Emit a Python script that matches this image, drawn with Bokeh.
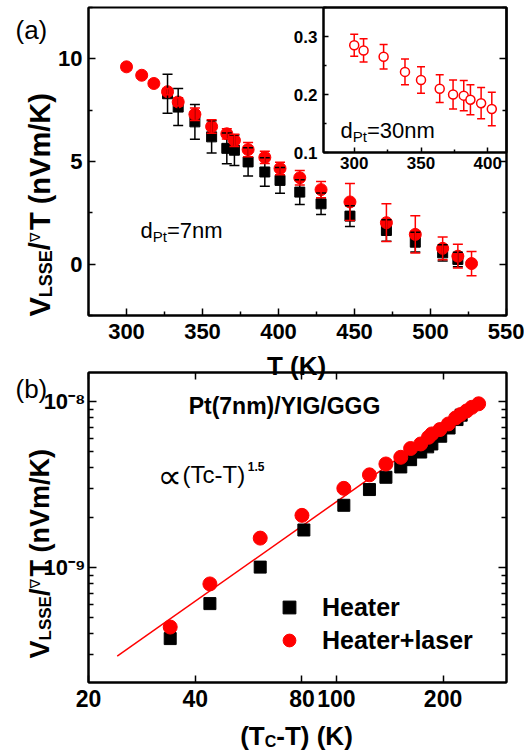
import math
from bokeh.plotting import figure
from bokeh.models import (ColumnDataSource, Whisker, TeeHead, Label, LinearAxis, LogAxis,
                          FixedTicker, NumeralTickFormatter, CustomJSTickFormatter,
                          Legend, LegendItem, GridBox)
from bokeh.embed import file_html
from bokeh.resources import INLINE

# ---------------- data: panel (a), d_Pt = 7 nm ----------------
heater_T = [327, 334, 345, 356, 366, 371, 380, 391, 401, 414, 428, 447, 471, 490, 508, 518]
heater_V = [8.30, 7.65, 6.93, 6.20, 5.64, 5.55, 4.98, 4.49, 4.08, 3.51, 2.94, 2.34, 1.64, 1.07, 0.55, 0.23]
heater_err = [0.95, 0.90, 0.85, 0.78, 0.75, 0.74, 0.69, 0.69, 0.63, 0.60, 0.52, 0.50, 0.52, 0.48, 0.40, 0.35]
laser_T = [300, 310, 318, 327, 334, 345, 356, 366, 371, 380, 391, 401, 414, 428, 447, 471, 490, 508, 518, 527]
laser_V = [9.61, 9.20, 8.80, 8.40, 7.90, 7.30, 6.70, 6.35, 6.03, 5.58, 5.20, 4.66, 4.21, 3.63, 3.03,
           2.02, 1.45, 0.77, 0.39, 0.03]
laser_err = [0.15, 0.15, 0.15, 0.15, 0.20, 0.30, 0.33, 0.25, 0.30, 0.35, 0.30, 0.30, 0.35, 0.40, 0.90,
             0.92, 0.91, 0.55, 0.58, 0.59]
# inset, d_Pt = 30 nm
inset_T = [300, 307, 322, 338, 350, 364, 374, 382, 387, 395, 403]
inset_V = [0.285, 0.276, 0.265, 0.239, 0.225, 0.210, 0.200, 0.198, 0.191, 0.185, 0.175]
inset_err = [0.019, 0.020, 0.021, 0.022, 0.023, 0.024, 0.025, 0.026, 0.026, 0.027, 0.029]

# ---------------- data: panel (b) ----------------
b_heater_dT = [34, 44, 61, 81, 105, 124, 138, 152, 162, 173, 181, 186, 197, 208, 219, 225]
b_heater_S = [3.75e-10, 6.09e-10, 1.01e-9, 1.69e-9, 2.38e-9, 2.96e-9, 3.51e-9, 4.05e-9, 4.48e-9,
              4.98e-9, 5.35e-9, 5.57e-9, 6.20e-9, 6.95e-9, 7.81e-9, 8.30e-9]
b_laser_dT = [34, 44, 61, 80, 105, 124, 138, 152, 162, 173, 182, 186, 196, 207, 217, 224, 233, 241, 252]
b_laser_S = [4.4e-10, 8.0e-10, 1.51e-9, 2.07e-9, 3.01e-9, 3.63e-9, 4.22e-9, 4.63e-9, 5.23e-9, 5.57e-9,
             6.11e-9, 6.40e-9, 6.80e-9, 7.35e-9, 7.99e-9, 8.37e-9, 8.80e-9, 9.25e-9, 9.72e-9]
fit_dT = [24.1, 255]
fit_S = [2.94e-10, 1.02e-8]

# tick positions
a_xticks = [300, 350, 400, 450, 500, 550]
a_xminor = [275, 325, 375, 425, 475, 525]
a_yticks = [0, 5, 10]
a_yminor = [-2.5, 2.5, 7.5, 12.5]
in_xticks = [300, 350, 400]
in_xminor = [325, 375]
in_yticks = [0.1, 0.2, 0.3]
in_yminor = [0.15, 0.25, 0.35]
b_xticks = [20, 40, 80, 100, 200]
b_yticks = [1e-9, 1e-8]
b_yminor = [k * d for d in (1e-10, 1e-9, 1e-8) for k in range(2, 10)]

RED = "#ff0000"
FONT = "Liberation Sans"
W, H = 524, 754

# Arial / Liberation Sans advance widths (em)
AR = {' ': .278, '(': .333, ')': .333, '-': .333, '.': .278, '/': .278, '=': .584, '+': .584,
      'C': .722, 'K': .667, 'L': .556, 'P': .667, 'S': .667, 'E': .667, 'T': .611, 'V': .667,
      'a': .556, 'c': .5, 'd': .556, 'e': .556, 'l': .222, 'm': .833, 'n': .556, 'r': .333,
      's': .5, 't': .278}
AB = {' ': .278, '(': .333, ')': .333, '-': .333, '.': .278, '/': .278, '=': .584, '+': .584,
      'C': .722, 'E': .667, 'G': .778, 'H': .722, 'I': .278, 'K': .722, 'L': .611, 'P': .667,
      'S': .667, 'T': .611, 'V': .667, 'Y': .667, 'a': .556, 'c': .556, 'e': .556, 'l': .278,
      'm': .889, 'n': .611, 'r': .389, 's': .556, 't': .333}
for _d in "0123456789":
    AR[_d] = .556
    AB[_d] = .556


def text_w(s, size, bold):
    tbl = AB if bold else AR
    return sum(tbl.get(c, 0.7) for c in s) * size


def style_axis(ax, size, standoff, tick_in=7, minor_in=4):
    ax.axis_line_width = 2
    ax.axis_line_color = "black"
    ax.major_tick_in = tick_in
    ax.major_tick_out = 0
    ax.minor_tick_in = minor_in
    ax.minor_tick_out = 0
    ax.major_tick_line_width = 1.5
    ax.minor_tick_line_width = 1.5
    ax.major_tick_line_color = "black"
    ax.minor_tick_line_color = "black"
    ax.major_label_text_font = FONT
    ax.major_label_text_font_style = "bold"
    ax.major_label_text_font_size = f"{size}px"
    ax.major_label_text_color = "black"
    ax.major_label_standoff = standoff


def hidden_axis(cls, ticker, tick_in=7, minor_in=4):
    ax = cls(ticker=ticker, formatter=CustomJSTickFormatter(code="return '';"))
    style_axis(ax, 2, 0, tick_in, minor_in)
    return ax


def base_fig(**kw):
    p = figure(output_backend="svg", toolbar_location=None, **kw)
    p.xgrid.visible = False
    p.ygrid.visible = False
    p.outline_line_color = "black"
    p.outline_line_width = 2
    p.outline_line_alpha = 1
    return p


# ================= panel (a) =================
pa = base_fig(width=524, height=368, x_range=(275, 550), y_range=(-2.5, 12.5),
              min_border_left=88, min_border_right=18, min_border_top=7, min_border_bottom=53)
a_xt = FixedTicker(ticks=a_xticks, minor_ticks=a_xminor)
a_yt = FixedTicker(ticks=a_yticks, minor_ticks=a_yminor)
pa.xaxis.ticker = a_xt
pa.yaxis.ticker = a_yt
style_axis(pa.xaxis[0], 22, 8)
style_axis(pa.yaxis[0], 22, 6)
pa.add_layout(hidden_axis(LinearAxis, a_yt), "right")

src_h = ColumnDataSource(dict(x=heater_T, y=heater_V,
                              lo=[v - e for v, e in zip(heater_V, heater_err)],
                              hi=[v + e for v, e in zip(heater_V, heater_err)]))
src_l = ColumnDataSource(dict(x=laser_T, y=laser_V,
                              lo=[v - e for v, e in zip(laser_V, laser_err)],
                              hi=[v + e for v, e in zip(laser_V, laser_err)]))
pa.scatter("x", "y", source=src_h, marker="square", size=10, color="black")
pa.scatter("x", "y", source=src_l, marker="circle", size=12, color=RED)
for src, col in ((src_h, "black"), (src_l, RED)):
    pa.add_layout(Whisker(source=src, base="x", lower="lo", upper="hi", dimension="height",
                          line_color=col, line_width=1.5, level="overlay",
                          upper_head=TeeHead(size=10, line_color=col, line_width=1.5),
                          lower_head=TeeHead(size=10, line_color=col, line_width=1.5)))

# ================= inset =================
pin = base_fig(width=234, height=180, x_range=(277, 414), y_range=(0.1, 0.35),
               min_border_left=32, min_border_right=18, min_border_top=7, min_border_bottom=28)
pin.background_fill_alpha = 0
pin.border_fill_alpha = 0
pin.xaxis.ticker = FixedTicker(ticks=in_xticks, minor_ticks=in_xminor)
pin.yaxis.ticker = FixedTicker(ticks=in_yticks, minor_ticks=in_yminor)
pin.yaxis.formatter = NumeralTickFormatter(format="0.0")
style_axis(pin.xaxis[0], 17, 4, 5, 3)
style_axis(pin.yaxis[0], 17, 6, 5, 3)
src_in = ColumnDataSource(dict(x=inset_T, y=inset_V,
                               lo=[v - e for v, e in zip(inset_V, inset_err)],
                               hi=[v + e for v, e in zip(inset_V, inset_err)]))
pin.add_layout(Whisker(source=src_in, base="x", lower="lo", upper="hi", dimension="height",
                       line_color=RED, line_width=1.5, level="underlay",
                       upper_head=TeeHead(size=8, line_color=RED, line_width=1.5),
                       lower_head=TeeHead(size=8, line_color=RED, line_width=1.5)))
pin.scatter("x", "y", source=src_in, marker="circle", size=9, fill_color="white",
            line_color=RED, line_width=1.5)

# ================= panel (b) =================
pb = base_fig(width=524, height=386, x_axis_type="log", y_axis_type="log",
              x_range=(20, 302), y_range=(2.04e-10, 1.5e-8),
              min_border_left=88, min_border_right=17, min_border_top=4, min_border_bottom=72)
b_xt = FixedTicker(ticks=b_xticks, minor_ticks=[])
b_yt = FixedTicker(ticks=b_yticks, minor_ticks=b_yminor)
pb.xaxis.ticker = b_xt
pb.yaxis.ticker = b_yt
pb.xaxis.formatter = NumeralTickFormatter(format="0")
pb.yaxis.formatter = CustomJSTickFormatter(code="""
const e = Math.round(Math.log10(tick));
const sup = {"-": "\\u207b", "0": "\\u2070", "1": "\\u00b9", "2": "\\u00b2", "3": "\\u00b3",
             "4": "\\u2074", "5": "\\u2075", "6": "\\u2076", "7": "\\u2077", "8": "\\u2078", "9": "\\u2079"};
return "10" + String(e).split("").map(c => sup[c]).join("");
""")
style_axis(pb.xaxis[0], 23, 7, 7, 4)
style_axis(pb.yaxis[0], 22, 3, 8, 5)
pb.add_layout(hidden_axis(LogAxis, b_yt, 8, 5), "right")
pb.add_layout(hidden_axis(LogAxis, b_xt, 7, 4), "above")

pb.line(fit_dT, fit_S, line_color=RED, line_width=1.5)
rh = pb.scatter(b_heater_dT, b_heater_S, marker="square", size=12, color="black")
rl = pb.scatter(b_laser_dT, b_laser_S, marker="circle", size=14, color=RED)

legend = Legend(items=[LegendItem(label="Heater", renderers=[rh]),
                       LegendItem(label="Heater+laser", renderers=[rl])],
                location=(273 - 88, 682 - 656), orientation="vertical",
                border_line_color=None, background_fill_alpha=0,
                label_text_font=FONT, label_text_font_style="bold", label_text_font_size="25px",
                label_text_color="black", glyph_width=32, glyph_height=32, label_height=32,
                label_standoff=17, spacing=1, padding=0, margin=0)
pb.add_layout(legend)

# ================= transparent text layer over the whole page =================
ov = figure(width=W, height=H, x_range=(0, W), y_range=(0, H), min_border=0,
            x_axis_location=None, y_axis_location=None, toolbar_location=None,
            output_backend="svg")
ov.xgrid.visible = False
ov.ygrid.visible = False
ov.outline_line_color = None
ov.background_fill_alpha = 0
ov.border_fill_alpha = 0


def rich(pieces, xc, yc, angle=0.0, align="left"):
    """pieces: (text, size_px, bold, baseline_shift, font, width_override); xc, yc in page px from top-left"""
    total = sum((wov if wov is not None else text_w(t, s, b)) for t, s, b, _, _, wov in pieces)
    x0 = xc - total / 2 if align == "center" else xc
    y0 = H - yc
    adv = 0.0
    for text, size, bold, shift, font, wov in pieces:
        if angle == 0.0:
            x, y = x0 + adv, y0 + shift
        else:
            x, y = xc - shift, y0 + adv
        ov.add_layout(Label(x=x, y=y, x_units="screen", y_units="screen", text=text, angle=angle,
                            text_font=font, text_font_size=f"{size}px",
                            text_font_style="bold" if bold else "normal", text_color="black",
                            text_align="left", text_baseline="alphabetic"))
        adv += wov if wov is not None else text_w(text, size, bold)


def ytitle(s):
    return [("V", s, True, 0, FONT, None), ("LSSE", round(s * 0.62), True, -6, FONT, None),
            ("/", s, True, 0, FONT, None), ("\u2207", 14, False, 5, "DejaVu Sans", 12),
            ("T (nVm/K)", s, True, 0, FONT, None)]


rich([("(a)", 26, False, 0, FONT, None)], 15, 29)
rich([("d", 22, False, 0, FONT, None), ("Pt", 15, False, -6, FONT, None),
      ("=7nm", 22, False, 0, FONT, None)], 140, 230)
rich([("T (K)", 26, True, 0, FONT, None)], 296, 365, align="center")
rich(ytitle(29), 39, 316, angle=math.pi / 2)
rich([("d", 22, False, 0, FONT, None), ("Pt", 15, False, -6, FONT, None),
      ("=30nm", 22, False, 0, FONT, None)], 340, 130)

rich([("(b)", 26, False, 0, FONT, None)], 15, 388)
rich([("Pt(7nm)/YIG/GGG", 23, True, 0, FONT, None)], 284, 405, align="center")
rich([("\u221d", 34, False, -1, "DejaVu Sans", 25), ("(Tc-T)", 24, False, 0, FONT, None),
      ("1.5", 12, True, 8, FONT, None)], 157, 474)
rich([("(T", 26, True, 0, FONT, None), ("C", 16, True, -6, FONT, None),
      ("-T) (K)", 26, True, 0, FONT, None)], 296, 735, align="center")
rich(ytitle(27), 39, 658, angle=math.pi / 2)

# zero-size outer tracks keep the text layer's frame independent of the panels' frames
layout = GridBox(children=[(pa, 1, 1, 2, 2), (pin, 1, 2, 1, 1), (pb, 3, 1, 1, 2), (ov, 0, 0, 5, 4)],
                 rows=["0px", "180px", "188px", "386px", "0px"],
                 cols=["0px", "290px", "234px", "0px"])

open("out.html", "w").write(file_html(layout, INLINE))
